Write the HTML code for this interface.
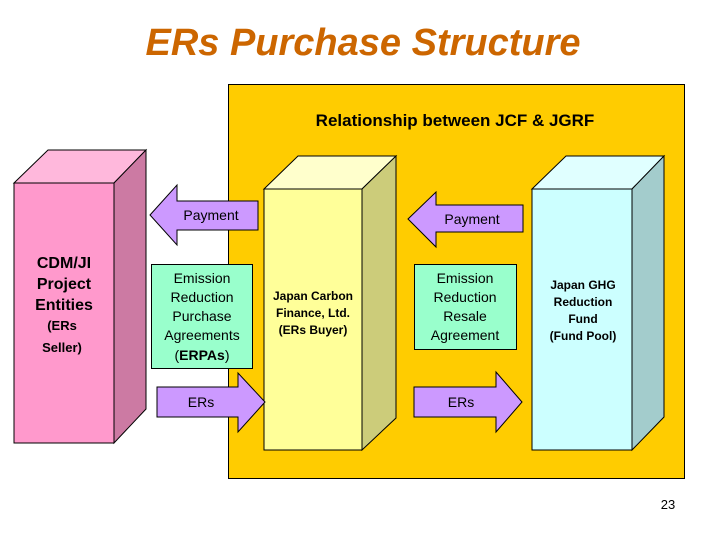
<!DOCTYPE html>
<html><head><meta charset="utf-8"><style>
html,body{margin:0;padding:0;background:#fff;}
svg{display:block;font-family:"Liberation Sans",Arial,sans-serif;}
</style></head><body>
<svg width="720" height="540" viewBox="0 0 720 540" xmlns="http://www.w3.org/2000/svg">
<text x="363" y="55" text-anchor="middle" font-size="38" font-weight="bold" font-style="italic" fill="#CC6600">ERs Purchase Structure</text>
<rect x="228.5" y="84.5" width="456" height="394" fill="#FFCC00" stroke="#000" stroke-width="1"/>
<text x="455" y="126" text-anchor="middle" font-size="17" font-weight="bold" fill="#000">Relationship between JCF &amp; JGRF</text>

<!-- pink box -->
<g stroke="#000" stroke-width="1">
<polygon points="14,183 48,150 146,150 114,183" fill="#FFB8DC"/>
<polygon points="114,183 146,150 146,409 114,443" fill="#CC7AA3"/>
<rect x="14" y="183" width="100" height="260" fill="#FF99CC"/>
</g>
<g font-weight="bold" text-anchor="middle" fill="#000">
<text x="64" y="268" font-size="16">CDM/JI</text>
<text x="64" y="289" font-size="16">Project</text>
<text x="64" y="310" font-size="16">Entities</text>
<text x="62" y="330" font-size="13">(ERs</text>
<text x="62" y="352" font-size="13">Seller)</text>
</g>

<!-- yellow box -->
<g stroke="#000" stroke-width="1">
<polygon points="264,189 298,156 396,156 362,189" fill="#FFFFCC"/>
<polygon points="362,189 396,156 396,418 362,450" fill="#CCCC7A"/>
<rect x="264" y="189" width="98" height="261" fill="#FFFF99"/>
</g>
<g font-weight="bold" text-anchor="middle" font-size="12" fill="#000">
<text x="313" y="300">Japan Carbon</text>
<text x="313" y="317">Finance, Ltd.</text>
<text x="313" y="334">(ERs Buyer)</text>
</g>

<!-- cyan box -->
<g stroke="#000" stroke-width="1">
<polygon points="532,189 566,156 664,156 632,189" fill="#E0FFFF"/>
<polygon points="632,189 664,156 664,417 632,450" fill="#A3CCCC"/>
<rect x="532" y="189" width="100" height="261" fill="#CCFFFF"/>
</g>
<g font-weight="bold" text-anchor="middle" font-size="12" fill="#000">
<text x="583" y="289">Japan GHG</text>
<text x="583" y="306">Reduction</text>
<text x="583" y="323">Fund</text>
<text x="583" y="340">(Fund Pool)</text>
</g>

<!-- arrows -->
<g fill="#CC99FF" stroke="#000" stroke-width="1">
<polygon points="150,215 177,185 177,201 258,201 258,230 177,230 177,245"/>
<polygon points="157,387 238,387 238,373 265,402 238,432 238,417 157,417"/>
<polygon points="408,219 436,192 436,205 523,205 523,232 436,232 436,247"/>
<polygon points="414,387 496,387 496,372 522,402 496,432 496,417 414,417"/>
</g>
<g font-size="14" text-anchor="middle" fill="#000">
<text x="211" y="220">Payment</text>
<text x="201" y="407">ERs</text>
<text x="472" y="224">Payment</text>
<text x="461" y="407">ERs</text>
</g>

<!-- green boxes -->
<rect x="151.5" y="264.5" width="101" height="104" fill="#99FFCC" stroke="#000"/>
<g font-size="14" text-anchor="middle" fill="#000">
<text x="202" y="283">Emission</text>
<text x="202" y="302">Reduction</text>
<text x="202" y="321">Purchase</text>
<text x="202" y="340">Agreements</text>
<text x="202" y="360">(<tspan font-weight="bold">ERPAs</tspan>)</text>
</g>
<rect x="414.5" y="264.5" width="102" height="85" fill="#99FFCC" stroke="#000"/>
<g font-size="14" text-anchor="middle" fill="#000">
<text x="465" y="283">Emission</text>
<text x="465" y="302">Reduction</text>
<text x="465" y="321">Resale</text>
<text x="465" y="340">Agreement</text>
</g>

<text x="668" y="509" text-anchor="middle" font-size="13" fill="#000">23</text>
</svg>
</body></html>
